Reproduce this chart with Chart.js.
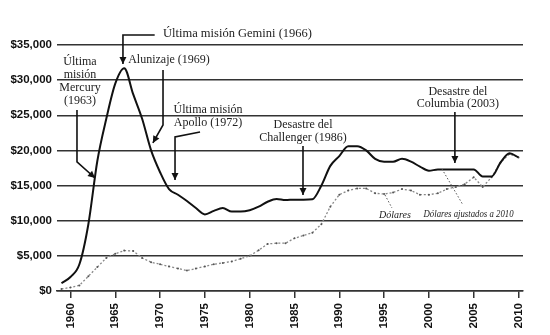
<!DOCTYPE html>
<html>
<head>
<meta charset="utf-8">
<script src="https://cdn.jsdelivr.net/npm/chart.js@4"></script>
<style>
  html, body { margin: 0; padding: 0; background: #fff; }
  #wrap { width: 550px; height: 335px; }
</style>
</head>
<body>
<div id="wrap"><canvas id="grafico" width="550" height="335"></canvas></div>
<script>
const anos = [1959, 1960, 1961, 1962, 1963, 1964, 1965, 1966, 1967, 1968, 1969,
  1970, 1971, 1972, 1973, 1974, 1975, 1976, 1977, 1978, 1979, 1980, 1981, 1982,
  1983, 1984, 1985, 1986, 1987, 1988, 1989, 1990, 1991, 1992, 1993, 1994, 1995,
  1996, 1997, 1998, 1999, 2000, 2001, 2002, 2003, 2004, 2005, 2006, 2007, 2008,
  2009, 2010];

// presupuesto en dólares ajustados a 2010
const ajustados = [1100, 2000, 3800, 9500, 18500, 24500, 29500, 31700, 28000, 24500, 20000,
  16900, 14500, 13700, 12800, 11800, 10900, 11400, 11800, 11300, 11300, 11500, 12000, 12700,
  13100, 12950, 13000, 13000, 13050, 15000, 17800, 19200, 20600, 20600, 20000, 18800, 18400,
  18400, 18800, 18400, 17700, 17100, 17300, 17300, 17300, 17300, 17300, 16300, 16300, 18300,
  19600, 19000];

// presupuesto en dólares corrientes
const dolares = [300, 500, 800, 2100, 3400, 4700, 5300, 5750, 5700, 4700, 4100,
  3800, 3500, 3200, 2900, 3200, 3500, 3800, 4000, 4200, 4600, 5000, 5800, 6700,
  6800, 6800, 7500, 7900, 8300, 9500, 12000, 13700, 14300, 14600, 14600, 13900, 13800,
  14000, 14500, 14300, 13700, 13700, 13900, 14500, 14800, 15200, 16200, 14800, 16200, 18300,
  19500, 19000];

const marcasX = [1960, 1965, 1970, 1975, 1980, 1985, 1990, 1995, 2000, 2005, 2010];

// notas: líneas de texto y trazo de la flecha (en año / valor)
const notas = [
  { lineas: ["Última misión Gemini (1966)"], x: 1970.33, y: 36570, alinear: "left", tam: 12.5,
    trazo: [[1969.4, 36430], [1965.86, 36430], [1965.86, 32300]] },
  { lineas: ["Alunizaje (1969)"], x: 1971.0, y: 32870,
    trazo: [[1970.33, 31450], [1970.33, 23620], [1969.2, 21060]] },
  { lineas: ["Última", "misión", "Mercury", "(1963)"], x: 1961.07, y: 32590, paso: 13,
    trazo: [[1960.73, 25760], [1960.73, 18360], [1962.74, 16080]] },
  { lineas: ["Última misión", "Apollo (1972)"], x: 1975.35, y: 25760, paso: 13,
    trazo: [[1974.46, 22630], [1971.67, 21910], [1971.67, 15800]] },
  { lineas: ["Desastre del", "Challenger (1986)"], x: 1985.95, y: 23620, paso: 13,
    trazo: [[1985.95, 20630], [1985.95, 13660]] },
  { lineas: ["Desastre del", "Columbia (2003)"], x: 2003.24, y: 28320, paso: 12,
    trazo: [[2002.9, 25470], [2002.9, 18210]] },
  { lineas: ["Dólares"], x: 1996.2, y: 10810, italica: true,
    trazo: [[1995.1, 13660], [1995.88, 11810]], punteado: true },
  { lineas: ["Dólares ajustados a 2010"], x: 1999.4, y: 10960, italica: true, alinear: "left", ancho: 90,
    trazo: [[2001.46, 17360], [2003.8, 12240]], punteado: true }
];

const pluginNotas = {
  id: 'notas',
  afterDatasetsDraw(chart) {
    const ctx = chart.ctx;
    const sx = chart.scales.x, sy = chart.scales.y;
    ctx.save();
    notas.forEach(n => {
      ctx.font = n.italica
        ? 'italic 10px "Liberation Serif", "DejaVu Serif", serif'
        : (n.tam || 12) + 'px "Liberation Serif", "DejaVu Serif", serif';
      ctx.fillStyle = '#222';
      ctx.textAlign = n.alinear || 'center';
      ctx.textBaseline = 'middle';
      const px = sx.getPixelForValue(n.x);
      const py = sy.getPixelForValue(n.y);
      n.lineas.forEach((l, i) => {
        if (n.ancho) ctx.fillText(l, px, py + i * (n.paso || 13), n.ancho);
        else ctx.fillText(l, px, py + i * (n.paso || 13));
      });

      const pts = n.trazo.map(p => [sx.getPixelForValue(p[0]), sy.getPixelForValue(p[1])]);
      ctx.beginPath();
      ctx.strokeStyle = n.punteado ? '#555' : '#111';
      ctx.lineWidth = n.punteado ? 1 : 1.6;
      ctx.setLineDash(n.punteado ? [1.5, 2] : []);
      pts.forEach((p, i) => i ? ctx.lineTo(p[0], p[1]) : ctx.moveTo(p[0], p[1]));
      ctx.stroke();
      ctx.setLineDash([]);
      if (!n.punteado) {
        const a = pts[pts.length - 1], b = pts[pts.length - 2];
        const ang = Math.atan2(a[1] - b[1], a[0] - b[0]);
        ctx.beginPath();
        ctx.moveTo(a[0], a[1]);
        ctx.lineTo(a[0] - 7 * Math.cos(ang) + 3.5 * Math.sin(ang), a[1] - 7 * Math.sin(ang) - 3.5 * Math.cos(ang));
        ctx.lineTo(a[0] - 7 * Math.cos(ang) - 3.5 * Math.sin(ang), a[1] - 7 * Math.sin(ang) + 3.5 * Math.cos(ang));
        ctx.closePath();
        ctx.fillStyle = '#111';
        ctx.fill();
      }
    });
    ctx.restore();
  }
};

const fuenteEje = { family: '"Liberation Sans", Arial, sans-serif', size: 11.5, weight: 'bold' };

new Chart(document.getElementById('grafico').getContext('2d'), {
  type: 'line',
  data: {
    datasets: [
      {
        label: 'Dólares ajustados a 2010',
        data: anos.map((a, i) => ({ x: a, y: ajustados[i] })),
        borderColor: '#111',
        borderWidth: 2,
        pointRadius: 0,
        cubicInterpolationMode: 'monotone',
        fill: false
      },
      {
        label: 'Dólares',
        data: anos.map((a, i) => ({ x: a, y: dolares[i] })),
        borderColor: '#888',
        borderWidth: 1.3,
        borderDash: [2, 2],
        pointRadius: 1,
        pointBackgroundColor: '#555',
        pointBorderWidth: 0,
        tension: 0,
        fill: false
      }
    ]
  },
  options: {
    responsive: false,
    animation: false,
    layout: { padding: { top: 45, right: 27, left: 0, bottom: 0 } },
    plugins: { legend: { display: false }, tooltip: { enabled: false } },
    scales: {
      x: {
        type: 'linear',
        min: 1958.5,
        max: 2010.5,
        afterBuildTicks: s => { s.ticks = marcasX.map(v => ({ value: v })); },
        afterFit: s => { s.height = 44; },
        grid: { display: true, drawOnChartArea: false, drawTicks: true, tickLength: 7, color: '#333', lineWidth: 1.5 },
        border: { display: true, color: '#333', width: 1.5 },
        ticks: {
          minRotation: 90, maxRotation: 90, padding: 5,
          color: '#111', font: fuenteEje,
          callback: v => String(v)
        }
      },
      y: {
        min: 0,
        max: 35000,
        afterFit: s => { s.width = 57; },
        grid: { color: '#333', lineWidth: 1.5, drawTicks: false },
        border: { display: false },
        ticks: {
          stepSize: 5000, padding: 5, color: '#111', font: fuenteEje,
          callback: v => '$' + v.toLocaleString('en-US')
        }
      }
    }
  },
  plugins: [pluginNotas]
});
</script>
</body>
</html>
